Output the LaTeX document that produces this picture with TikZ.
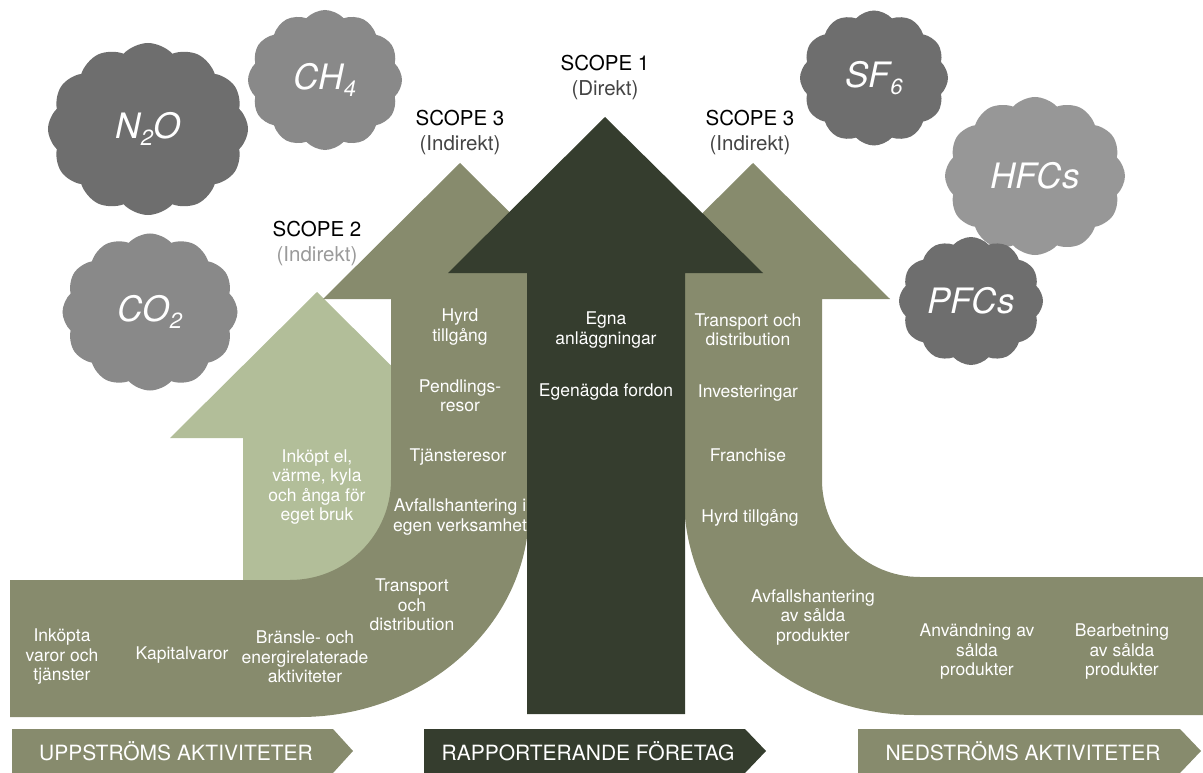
\documentclass[tikz,border=0pt]{standalone}
\usepackage{fontspec}
\setmainfont{TeX Gyre Heros}
\usetikzlibrary{shapes.symbols}
\definecolor{scopeolive}{HTML}{878B6D}
\definecolor{scopelight}{HTML}{B2BE99}
\definecolor{scopedark}{HTML}{353D2E}
\definecolor{gasdark}{HTML}{6E6E6E}
\definecolor{gasmid}{HTML}{898989}
\definecolor{gaslight}{HTML}{979797}
\definecolor{subgray}{HTML}{444444}
\definecolor{palegray}{HTML}{9A9A9A}
\newcommand\gsub[1]{\raisebox{-0.35ex}{\fontsize{22}{22}\selectfont #1}}
\begin{document}
\begin{tikzpicture}
	[x=1pt, y=-1pt,
	 txt/.style={text=white, align=center, font=\fontsize{17.5}{19.5}\selectfont},
	 scope/.style={align=center, font=\fontsize{20.5}{25}\selectfont},
	 gas/.style={cloud, cloud puffs=12, cloud puff arc=95, cloud ignores aspect, inner sep=0pt, text=white, font=\fontsize{35}{35}\selectfont\itshape},
	 tag/.style={text=white, font=\fontsize{21}{21}\selectfont}]
	\useasboundingbox (0,0) rectangle (1203,773);
	\fill[scopelight] (243,600) -- (243,438) -- (170,438) -- (317,292) -- (464,438) -- (391,438) -- (391,600) -- cycle;
	\fill[scopeolive] (10,580) -- (290,580) .. controls (346,580) and (391,535) .. (391,480) -- (391,299) -- (323,299) -- (460,163) -- (597,299) -- (529,299) -- (529,510) .. controls (529,624) and (426,717) .. (300,717) -- (10,717) -- cycle;
	\fill[scopeolive] (1203,577) -- (920,577) .. controls (866,577) and (822,534) .. (822,480) -- (822,299) -- (890,299) -- (753,163) -- (616,299) -- (684,299) -- (684,497) .. controls (684,617) and (787,715) .. (915,715) -- (1203,715) -- cycle;
	\fill[scopedark] (527,714) -- (527,273) -- (448,273) -- (605,117) -- (763,273) -- (685,273) -- (685,714) -- cycle;

	\node[gas, fill=gasmid, minimum width=154, minimum height=140] (ch4) at (325,80) {CH\gsub{4}};
	\node[gas, fill=gasdark, minimum width=200, minimum height=172] (n2o) at (148,129) {N\gsub{2}O};
	\node[gas, fill=gasmid, minimum width=175, minimum height=157] (co2) at (150,312) {CO\gsub{2}};
	\node[gas, fill=gasdark, minimum width=148, minimum height=135] (sf6) at (874,78) {SF\gsub{6}};
	\node[gas, fill=gaslight, minimum width=180, minimum height=158] (hfcs) at (1035,176) {HFCs};
	\node[gas, fill=gasdark, minimum width=144, minimum height=128] (pfcs) at (971,301) {PFCs};

	\node[scope] (s1) at (605,78) {SCOPE 1\\{\color{subgray}(Direkt)}};
	\node[scope] (s3l) at (460,133) {SCOPE 3\\{\color{subgray}(Indirekt)}};
	\node[scope] (s3r) at (750,133) {SCOPE 3\\{\color{subgray}(Indirekt)}};
	\node[scope] (s2) at (317,244) {SCOPE 2\\{\color{palegray}(Indirekt)}};

	\node[txt] (el) at (317,487) {Inköpt el,\\värme, kyla\\och ånga för\\eget bruk};
	\node[txt] (inkop) at (62,657) {Inköpta\\varor och\\tjänster};
	\node[txt] (kap) at (182,655) {Kapitalvaror};
	\node[txt] (brans) at (305,657) {Bränsle- och\\energirelaterade\\aktiviteter};
	\node[txt] (transup) at (412,605) {Transport\\och\\distribution};
	\node[txt] (hyrdup) at (460,327) {Hyrd\\tillgång};
	\node[txt] (pend) at (460,396) {Pendlings-\\resor};
	\node[txt] (tjan) at (458,457) {Tjänsteresor};
	\node[txt] (avfup) at (460,517) {Avfallshantering i\\egen verksamhet};
	\node[txt] (egna) at (606,330) {Egna\\anläggningar};
	\node[txt] (fordon) at (606,392) {Egenägda fordon};
	\node[txt] (transdn) at (748,330) {Transport och\\distribution};
	\node[txt] (inv) at (748,393) {Investeringar};
	\node[txt] (fran) at (748,455) {Franchise};
	\node[txt] (hyrddn) at (750,518) {Hyrd tillgång};
	\node[txt] (avfdn) at (813,617) {Avfallshantering\\av sålda\\produkter};
	\node[txt] (anv) at (977,652) {Användning av\\sålda\\produkter};
	\node[txt] (bear) at (1122,652) {Bearbetning\\av sålda\\produkter};

	\fill[scopeolive] (12,729) -- (333,729) -- (353,751) -- (333,773) -- (12,773) -- cycle;
	\node[tag] (upstr) at (176,751) {UPPSTRÖMS AKTIVITETER};
	\fill[scopedark] (424,729) -- (745,729) -- (766,751) -- (745,773) -- (424,773) -- cycle;
	\node[tag] (rapp) at (588,751) {RAPPORTERANDE FÖRETAG};
	\fill[scopeolive] (858,729) -- (1180,729) -- (1201,751) -- (1180,773) -- (858,773) -- cycle;
	\node[tag] (nedstr) at (1023,751) {NEDSTRÖMS AKTIVITETER};
\end{tikzpicture}
\end{document}
